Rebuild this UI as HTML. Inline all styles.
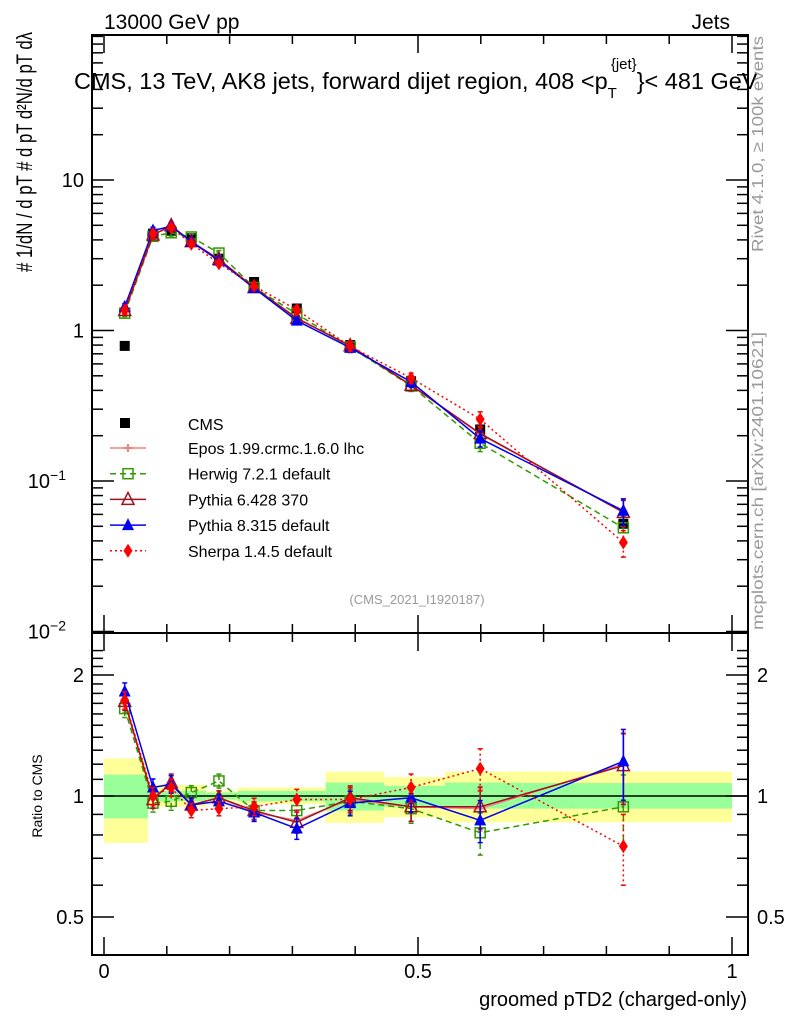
<!DOCTYPE html>
<html><head><meta charset="utf-8"><style>
html,body{margin:0;padding:0;background:#fff;}
svg{display:block;font-family:"Liberation Sans",sans-serif;}
</style></head><body>
<svg id="c" width="786" height="1024" viewBox="0 0 786 1024"></svg>
<script>
const xVals=[0.033,0.078,0.107,0.139,0.183,0.239,0.307,0.392,0.489,0.599,0.827];
const cmsVals=[0.79,4.4,4.6,4.1,3.0,2.1,1.4,0.8,0.46,0.22,0.052];
const eposRatio=[1.70,0.99,1.07,0.95,0.99,0.91,0.87,0.98,0.94,0.93,1.20];
const herwigRatio=[1.65,0.96,0.97,1.02,1.09,0.92,0.92,0.97,0.93,0.81,0.94];
const pythia6Ratio=[1.72,0.98,1.08,0.95,0.99,0.92,0.86,0.99,0.94,0.94,1.19];
const pythia8Ratio=[1.82,1.05,1.07,0.95,0.97,0.91,0.83,0.96,0.99,0.87,1.22];
const sherpaRatio=[1.73,1.00,1.05,0.92,0.93,0.94,0.98,0.98,1.05,1.17,0.75];
const relErr=[0.05,0.05,0.05,0.04,0.04,0.05,0.06,0.07,0.08,0.12,0.2];
const bandEdges=[0,0.07,0.163,0.213,0.353,0.446,0.543,0.666,1.0];
const yellowHi=[1.24,1.065,1.03,1.05,1.15,1.115,1.15,1.15];
const yellowLo=[0.764,0.94,0.97,0.955,0.857,0.885,0.86,0.86];
const greenHi=[1.13,1.03,1.02,1.03,1.08,1.06,1.08,1.077];
const greenLo=[0.88,0.97,0.98,0.97,0.92,0.94,0.93,0.93];
const mainTicks=[10,1,0.1,0.01];
const ratioTicks=[2,1,0.5];
const xTicks=[0,0.5,1];

const svg=document.getElementById('c');
const NS='http://www.w3.org/2000/svg';
function el(tag,attrs,parent){const e=document.createElementNS(NS,tag);for(const k in attrs)e.setAttribute(k,attrs[k]);(parent||svg).appendChild(e);return e;}
const X=v=>104+628*v;
const YM=v=>180-150.5*(Math.log10(v)-1);
const YR=r=>796-402*Math.log10(r);
const L=92,R=748,T=35,MB=633,RB=955;

for(let i=0;i<bandEdges.length-1;i++){
 let r=el('rect',{x:X(bandEdges[i]),y:YR(yellowHi[i]),width:X(bandEdges[i+1])-X(bandEdges[i]),height:YR(yellowLo[i])-YR(yellowHi[i]),fill:'#ffff99'});
 
 
 let g=el('rect',{x:X(bandEdges[i]),y:YR(greenHi[i]),width:X(bandEdges[i+1])-X(bandEdges[i]),height:YR(greenLo[i])-YR(greenHi[i]),fill:'#99ff99'});
 
 
}
el('line',{x1:L,x2:R,y1:YR(1),y2:YR(1),stroke:'#000','stroke-width':1.5});

el('rect',{x:L,y:T,width:R-L,height:MB-T,fill:'none',stroke:'#000','stroke-width':2});
el('rect',{x:L,y:MB,width:R-L,height:RB-MB,fill:'none',stroke:'#000','stroke-width':2});

for(let v=0;v<=1.0001;v+=0.1){const maj=Math.abs(v*2-Math.round(v*2))<1e-6;const len=maj?18:9;
 [[T,1],[MB,-1],[MB,1],[RB,-1]].forEach(([y,d])=>el('line',{x1:X(v),x2:X(v),y1:y,y2:y+d*len,stroke:'#000','stroke-width':1.5}));}
xTicks.forEach(v=>{const t=el('text',{x:X(v),y:978,'font-size':20,'text-anchor':'middle'});t.textContent=String(v);
 
 });

for(let d=-2;d<2;d++)for(let m=1;m<10;m++){const v=m*Math.pow(10,d);const y=YM(v);if(y<T||y>MB)continue;const len=m==1?22:11;
 el('line',{x1:L,x2:L+len,y1:y,y2:y,stroke:'#000','stroke-width':1.5});el('line',{x1:R,x2:R-len,y1:y,y2:y,stroke:'#000','stroke-width':1.5});}
const mlab=['10','1','10','10'],msup=['','','−1','−2'];
mainTicks.forEach((v,i)=>{const t=el('text',{x:msup[i]?66:84,y:YM(v)+7,'font-size':20,'text-anchor':'end'});t.textContent=mlab[i];
 if(msup[i]){const s=el('tspan',{dy:-8,'font-size':14},t);s.textContent=msup[i];}
 
 });
for(let r=0.4;r<=2.31;r+=0.1){const y=YR(r);if(y<MB||y>RB)continue;const maj=[0.5,1,2].some(q=>Math.abs(q-r)<1e-6);const len=maj?22:11;
 el('line',{x1:L,x2:L+len,y1:y,y2:y,stroke:'#000','stroke-width':1.5});el('line',{x1:R,x2:R-len,y1:y,y2:y,stroke:'#000','stroke-width':1.5});}
ratioTicks.forEach(v=>{[[84,'end'],[757,'start']].forEach(([x,a])=>{const t=el('text',{x:x,y:YR(v)+7,'font-size':20,'text-anchor':a});t.textContent=String(v);
 
 });});

function marker(kind,x,y,color,p){
 let m;
 if(kind=='sq')m=el('rect',{x:x-5,y:y-5,width:10,height:10,fill:color},p);
 else if(kind=='osq')m=el('rect',{x:x-5,y:y-5,width:10,height:10,fill:'none',stroke:color,'stroke-width':1.5},p);
 else if(kind=='otri')m=el('polygon',{points:`${x},${y-7} ${x-6},${y+5} ${x+6},${y+5}`,fill:'none',stroke:color,'stroke-width':1.5},p);
 else if(kind=='tri')m=el('polygon',{points:`${x},${y-7} ${x-6},${y+5} ${x+6},${y+5}`,fill:color},p);
 else if(kind=='dia')m=el('polygon',{points:`${x},${y-7} ${x-4.5},${y} ${x},${y+7} ${x+4.5},${y}`,fill:color},p);
 else if(kind=='cross')m=el('path',{d:`M${x-4} ${y}H${x+4}M${x} ${y-4}V${y+4}`,stroke:color,'stroke-width':2},p);
 return m;
}
const series=[
 {name:'epos',r:eposRatio,c:'#f08080',dash:'',m:'cross',label:'Epos 1.99.crmc.1.6.0 lhc'},
 {name:'herwig',r:herwigRatio,c:'#339900',dash:'6,4',m:'osq',label:'Herwig 7.2.1 default'},
 {name:'pythia6',r:pythia6Ratio,c:'#a01020',dash:'',m:'otri',label:'Pythia 6.428 370'},
 {name:'pythia8',r:pythia8Ratio,c:'#0000ee',dash:'',m:'tri',label:'Pythia 8.315 default'},
 {name:'sherpa',r:sherpaRatio,c:'#ff0000',dash:'2,3',m:'dia',label:'Sherpa 1.4.5 default'}];

const cg=el('g',{});


xVals.forEach((x,i)=>marker('sq',X(x),YM(cmsVals[i]),'#000',cg));

series.forEach(s=>{
 ['main','ratio'].forEach(panel=>{
  const g=el('g',{});
  
  
  const Y=i=>panel=='main'?YM(cmsVals[i]*s.r[i]):YR(s.r[i]);
  const pts=xVals.map((x,i)=>X(x)+','+Y(i)).join(' ');
  el('polyline',{points:pts,fill:'none',stroke:s.c,'stroke-width':1.5,'stroke-dasharray':s.dash},g);
  xVals.forEach((x,i)=>{
   const v=panel=='main'?cmsVals[i]*s.r[i]:s.r[i];
   const yh=panel=='main'?YM(v*(1+relErr[i])):YR(v*(1+relErr[i])),yl=panel=='main'?YM(v*(1-relErr[i])):YR(v*(1-relErr[i]));
   el('line',{x1:X(x),x2:X(x),y1:yh,y2:yl,stroke:s.c,'stroke-width':1.5,'stroke-dasharray':s.dash},g);
   el('line',{x1:X(x)-2.5,x2:X(x)+2.5,y1:yh,y2:yh,stroke:s.c,'stroke-width':1.5},g);
   el('line',{x1:X(x)-2.5,x2:X(x)+2.5,y1:yl,y2:yl,stroke:s.c,'stroke-width':1.5},g);
   marker(s.m,X(x),Y(i),s.c,g);
  });
 });
});

const lg=el('g',{});


marker('sq',125,423,'#000',lg);
let t0=el('text',{x:188,y:430,'font-size':16},lg);t0.textContent='CMS';
series.forEach((s,i)=>{const y=448+i*25.7;
 const e=el('g',{},lg);
 
 
 el('line',{x1:110,x2:146,y1:y,y2:y,stroke:s.c,'stroke-width':1.5,'stroke-dasharray':s.dash},e);
 marker(s.m,128,y,s.c,e);
 const t=el('text',{x:188,y:y+6,'font-size':16},e);t.textContent=s.label;});

function txt(x,y,s,size,attrs,name){const t=el('text',Object.assign({x:x,y:y,'font-size':size},attrs||{}));t.textContent=s;
 
 return t;}
txt(104,29,'13000 GeV pp',21,{},'header-left');
txt(730,29,'Jets',21,{'text-anchor':'end'},'header-right');
const title=txt(74,89,'CMS, 13 TeV, AK8 jets, forward dijet region, 408 <p',23.5,{},'plot-title');
let s1=el('tspan',{dy:9,'font-size':15},title);s1.textContent='T';
let s2=el('tspan',{dx:-6,dy:-29,'font-size':15},title);s2.textContent='{jet}';
let s3=el('tspan',{dy:20},title);s3.textContent='}< 481 GeV';
txt(417,604,'(CMS_2021_I1920187)',13,{fill:'#999','text-anchor':'middle'},'analysis-id');
txt(747,1006,'groomed pTD2 (charged-only)',20,{'text-anchor':'end'},'x-axis-title');
txt(0,0,'Ratio to CMS',14,{transform:'translate(42,796) rotate(-90)','text-anchor':'middle'},'ratio-y-axis-title');
txt(0,0,'#   1/dN / d pT    #   d pT    d²N/d pT dλ',22,{transform:'translate(32,272) rotate(-90)',textLength:240,lengthAdjust:'spacingAndGlyphs'},'y-axis-title');
txt(0,0,'Rivet 4.1.0, ≥ 100k events',16,{transform:'translate(763,252) rotate(-90)',fill:'#999',textLength:216,lengthAdjust:'spacingAndGlyphs'},'rivet-label');
txt(0,0,'mcplots.cern.ch [arXiv:2401.10621]',16,{transform:'translate(763,630) rotate(-90)',fill:'#999',textLength:298,lengthAdjust:'spacingAndGlyphs'},'mcplots-label');
</script>
</body></html>
